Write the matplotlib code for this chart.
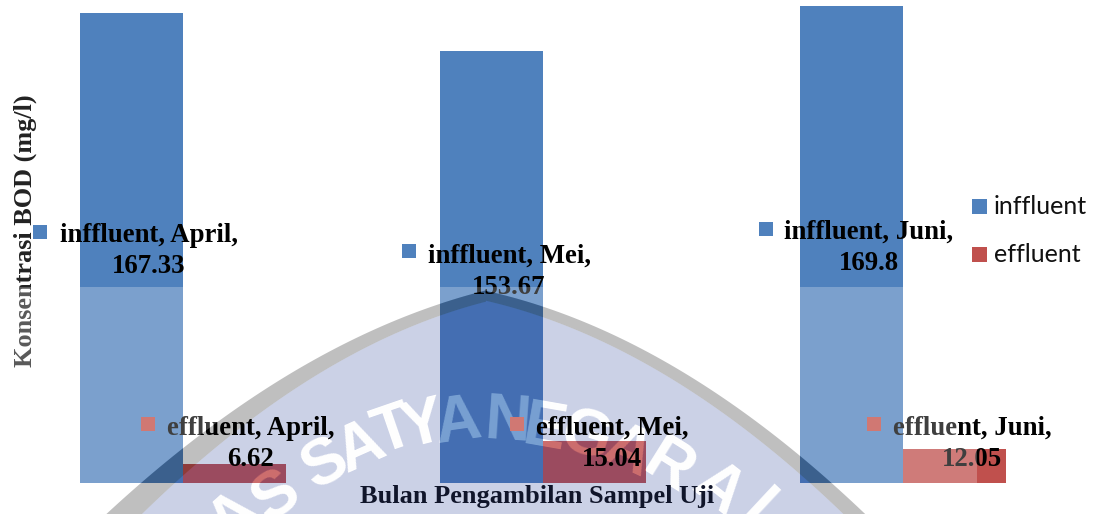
import numpy as np
import matplotlib
matplotlib.use('Agg')
import matplotlib.pyplot as plt
from matplotlib.patches import Polygon, Rectangle

# data
months = ['April', 'Mei', 'Juni']
influent = [167.33, 153.67, 169.8]
effluent = [6.62, 15.04, 12.05]
series_names = ['inffluent', 'effluent']

# warna
BLUE = '#4f81bd'
RED = '#c0504d'
BLUE_WM = '#446eb2'
RED_WM = '#9b4b5f'
BLUE_LETTER = '#78a0d2'
RED_LETTER = '#cd6e6e'
SHIELD = '#cbd1e6'
RED_MARK = '#d07873'

W, H = 1095, 514
fig = plt.figure(figsize=(W / 100, H / 100), dpi=100, facecolor='white')


def pixel_axes(z):
    a = fig.add_axes([0, 0, 1, 1], zorder=z)
    a.set_xlim(0, W)
    a.set_ylim(H, 0)
    a.axis('off')
    a.patch.set_alpha(0)
    return a


under = pixel_axes(0)
top = pixel_axes(2)

# sumbu batang
ax = fig.add_axes([3 / W, (H - 483) / H, 1080 / W, 483 / H], zorder=1)
ax.patch.set_alpha(0)
ax.set_xlim(-0.5, 2.5)
ax.set_ylim(0, 483 / 2.809)
ax.axis('off')


# garis lengkung watermark
def curve(points, x):
    points = np.array(points, dtype=float)
    return np.polyval(np.polyfit(points[:, 0], points[:, 1], 2), x)


peak_out, peak_in = (486, 290), (486, 300)
out_l = [(109, 514), (140, 483), (183, 445), (297, 370), (351, 343), (440, 303), peak_out]
out_r = [peak_out, (545, 307), (612, 335), (673, 370), (780, 437), (801, 452), (861, 514)]
in_l = [(147, 514), (172, 483), (183, 472), (323, 370), (351, 358), (440, 317), peak_in]
in_r = [peak_in, (545, 317), (647, 370), (780, 448), (838, 514)]


def arc(left, right):
    # ujung lengkung diteruskan sedikit ke bawah gambar
    xl = np.linspace(left[0][0] - 25, left[-1][0], 60)
    xr = np.linspace(right[0][0], right[-1][0] + 25, 60)
    return list(zip(xl, curve(left, xl))) + [right[0]] + list(zip(xr, curve(right, xr)))


outer = arc(out_l, out_r)
inner = arc(in_l, in_r)
under.add_patch(Polygon(inner, closed=True, fc=SHIELD, ec='none'))

# huruf watermark
wm_letters = [
    ('A', 235, 518, 42), ('S', 277, 497, 35),
    ('S', 325, 465, 29), ('A', 361, 448, 24), ('T', 393, 432, 19), ('Y', 423, 426, 14),
    ('A', 458, 423, 8), ('N', 508, 423, -4), ('E', 545, 430, -10),
    ('G', 585, 438, -18), ('A', 627, 452, -25), ('R', 668, 468, -32), ('A', 718, 490, -38),
    ('I', 757, 510, -43),
]
for ch, x, y, rot in wm_letters:
    under.text(x, y, ch, color='white', fontsize=46, family='Liberation Sans', weight='bold',
               rotation=rot, rotation_mode='anchor', ha='center', va='center')

# batang
pos = np.arange(len(months))
width = 0.286
bars_in = ax.bar(pos - width / 2, influent, width, color=BLUE, linewidth=0)
bars_ef = ax.bar(pos + width / 2, effluent, width, color=RED, linewidth=0)

# bagian batang di dalam watermark
clip_patch = Polygon(inner, closed=True, transform=under.transData)
for rect, color in [(r, BLUE_WM) for r in bars_in] + [(r, RED_WM) for r in bars_ef]:
    r = ax.add_patch(Rectangle(rect.get_xy(), rect.get_width(), rect.get_height(), fc=color, lw=0))
    r.set_clip_path(clip_patch)

for ch, x, y, rot in wm_letters:
    for rects, color in [(bars_in, BLUE_LETTER), (bars_ef, RED_LETTER)]:
        for rect in rects:
            t = top.text(x, y, ch, color=color, fontsize=46, family='Liberation Sans', weight='bold',
                         rotation=rot, rotation_mode='anchor', ha='center', va='center', zorder=2,
                         clip_on=True)
            t.set_clip_path(rect)

# label data
serif = dict(family='Liberation Serif', weight='bold', fontsize=19.3, color='black', zorder=3,
             ha='center', va='center', linespacing=1.36)
in_label_pos = [(149, 251), (509, 272), (869, 248)]
ef_label_pos = [(251, 444), (612, 444), (972, 444)]
in_mark_x, in_mark_y = [33, 402, 759], [225, 244, 222]
ef_mark_x, ef_mark_y = [141, 510, 867], [417, 417, 417]
for i, m in enumerate(months):
    top.text(*in_label_pos[i], f'{series_names[0]}, {m},\n{influent[i]}', **serif)
    top.text(*ef_label_pos[i], f'{series_names[1]}, {m},\n{effluent[i]}', **serif)
    top.add_patch(Rectangle((in_mark_x[i], in_mark_y[i]), 14, 14, fc=BLUE, lw=0, zorder=7))
    top.add_patch(Rectangle((ef_mark_x[i], ef_mark_y[i]), 14, 14, fc=RED_MARK, lw=0, zorder=7))

# judul sumbu
top.text(537, 497, 'Bulan Pengambilan Sampel Uji', **{**serif, 'fontsize': 19, 'color': '#10152a'})
top.text(25, 231, 'Konsentrasi BOD (mg/l)', rotation=90, **{**serif, 'fontsize': 18.9, 'color': '#222222'})

# lapisan putih transparan dan pita abu-abu
veil = [(0, 287), (958, 287), (958, 445), (977, 445), (977, H + 40)] + outer[::-1] + [(0, H + 40)]
top.add_patch(Polygon(veil, closed=True, fc='white', alpha=0.25, lw=0, zorder=4))
band = outer + inner[::-1]
top.add_patch(Polygon(band, closed=True, fc='black', alpha=0.25, lw=0, zorder=5))

# legenda
for y, name, color in [(199, series_names[0], BLUE), (247, series_names[1], RED)]:
    top.add_patch(Rectangle((972, y), 15, 15, fc=color, lw=0, zorder=7))
    top.text(994, y + 7, name, family='Lato', fontsize=18, color='#111111', va='center', zorder=7)

fig.savefig('out.png', dpi=100)
